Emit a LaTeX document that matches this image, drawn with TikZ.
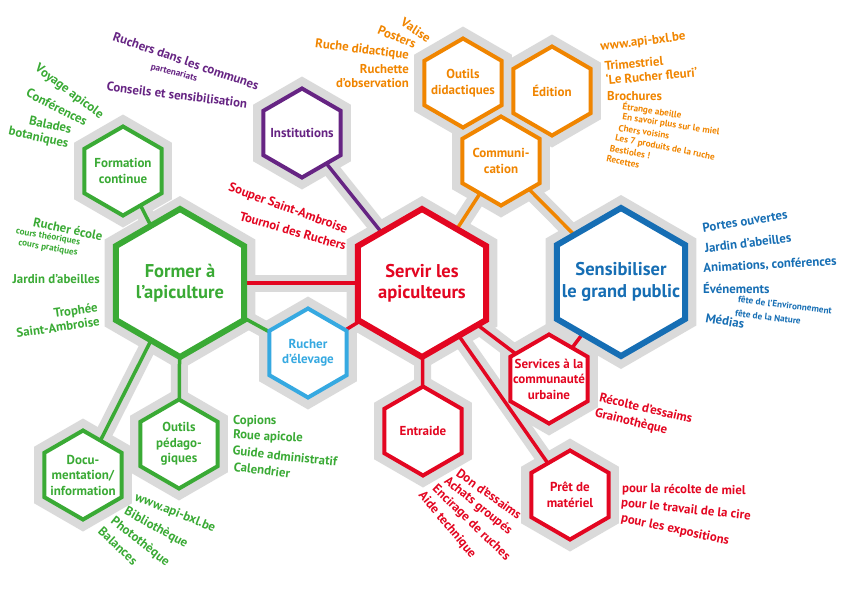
\documentclass[tikz,border=0pt]{standalone}
\usepackage{fontspec}
\setmainfont{PT Sans}
\usetikzlibrary{shapes.geometric}
\definecolor{apigreen}{RGB}{58,170,53}
\definecolor{apired}{RGB}{227,6,33}
\definecolor{apiblue}{RGB}{22,110,180}
\definecolor{apisky}{RGB}{54,169,225}
\definecolor{apipurple}{RGB}{102,36,131}
\definecolor{apiorange}{RGB}{240,133,0}
\definecolor{halogray}{RGB}{218,218,218}
\pgfdeclarelayer{halo}
\pgfdeclarelayer{link}
\pgfsetlayers{halo,link,main}

\begin{document}
\begin{tikzpicture}[x=1pt, y=-1pt,
    hex/.style={regular polygon, regular polygon sides=6, shape border rotate=30,
                inner sep=0pt, outer sep=0pt},
    hexbig/.style={hex, draw, fill=white, line width=6pt, minimum size=148pt},
    hexsmall/.style={hex, draw, fill=white, line width=4pt, minimum size=89pt},
    halobig/.style={hex, fill=halogray, minimum size=174pt},
    halosmall/.style={hex, fill=halogray, minimum size=113pt},
    biglbl/.style={font=\fontsize{18.5}{21.5}\selectfont\bfseries, align=center},
    smalllbl/.style={font=\fontsize{13}{15.5}\selectfont\bfseries, align=center},
    note/.style={font=\fontsize{12.8}{14.5}\selectfont\bfseries, inner sep=0pt},
    subnote/.style={font=\fontsize{9.2}{10.5}\selectfont\bfseries, inner sep=0pt},
    listnote/.style={font=\fontsize{9.2}{10.5}\selectfont\bfseries, inner sep=0pt}
]
\useasboundingbox (0,0) rectangle (842,595);

% main hexagons
\node[hexbig, draw=apigreen, label={[biglbl, text=apigreen]center:{Former à\\l’apiculture}}] (former) at (180,283) {};
\node[hexbig, draw=apired, label={[biglbl, text=apired]center:{Servir les\\apiculteurs}}] (servir) at (422,283) {};
\node[hexbig, draw=apiblue, label={[biglbl, text=apiblue]center:{Sensibiliser\\le grand public}}] (sensib) at (621,282) {};

% small hexagons
\node[hexsmall, draw=apisky, label={[smalllbl, text=apisky]center:{Rucher\\d’élevage}}] (rucher) at (308,353) {};
\node[hexsmall, draw=apigreen, label={[smalllbl, text=apigreen]center:{Formation\\continue}}] (formation) at (123,171) {};
\node[hexsmall, draw=apipurple, label={[smalllbl, text=apipurple]center:{Institutions}}] (instit) at (302,133) {};
\node[hexsmall, draw=apiorange, label={[smalllbl, text=apiorange]center:{Outils\\didactiques}}] (outilsd) at (463,83) {};
\node[hexsmall, draw=apiorange, label={[smalllbl, text=apiorange]center:{Édition}}] (edition) at (552,91) {};
\node[hexsmall, draw=apiorange, label={[smalllbl, text=apiorange]center:{Communi-\\cation}}] (comm) at (501,161) {};
\node[hexsmall, draw=apigreen, label={[smalllbl, text=apigreen]center:{Outils\\pédago-\\giques}}] (outilsp) at (179,444) {};
\node[hexsmall, draw=apigreen, label={[smalllbl, text=apigreen]center:{Docu-\\mentation/\\information}}] (docu) at (83,475) {};
\node[hexsmall, draw=apired, label={[smalllbl, text=apired]center:{Entraide}}] (entraide) at (423,431) {};
\node[hexsmall, draw=apired, label={[smalllbl, text=apired]center:{Services à la\\communauté\\urbaine}}] (services) at (549,379) {};
\node[hexsmall, draw=apired, label={[smalllbl, text=apired]center:{Prêt de\\matériel}}] (pret) at (570,495) {};

% gray halos
\begin{pgfonlayer}{halo}
\foreach \n in {former,servir,sensib}
    \node[halobig] (\n-halo) at (\n) {};
\foreach \n in {rucher,formation,instit,outilsd,edition,comm,outilsp,docu,entraide,services,pret}
    \node[halosmall] (\n-halo) at (\n) {};
\foreach \a/\b in {former/formation,former/servir,former/rucher,servir/rucher,servir/instit,
                   servir/comm,sensib/comm,servir/entraide,servir/services,sensib/services,
                   servir/pret,former/outilsp,former/docu}
    \draw[halogray, line width=17pt] (\a.center) -- (\b.center);
\end{pgfonlayer}

% links
\begin{pgfonlayer}{link}
\foreach \a/\b/\c/\w in {former/formation/apigreen/3.5, former/servir/apired/4.5,
                         former/rucher/apigreen/3.5, servir/rucher/apired/3.5,
                         servir/instit/apipurple/3.5, servir/comm/apiorange/3.5,
                         sensib/comm/apiorange/3.5, servir/entraide/apired/3.5,
                         servir/services/apired/3.5, sensib/services/apired/3.5,
                         servir/pret/apired/3.5, former/outilsp/apigreen/3.5,
                         former/docu/apigreen/3.5}
    \draw[\c, line width=\w pt] (\a.center) -- (\b.center);
\end{pgfonlayer}

% green notes
\node[note, apigreen, rotate=-37] (voyage) at (69,92) {Voyage apicole};
\node[note, apigreen, rotate=-27] (conferences) at (57,107) {Conférences};
\node[note, apigreen, rotate=-12, align=right] (balades) at (40,131) {Balades\\botaniques};
\node[note, apigreen, rotate=-12] (ecole) at (68,229) {Rucher école};
\node[subnote, apigreen, rotate=-10] (theorie) at (48,237) {cours théoriques};
\node[subnote, apigreen, rotate=-10] (pratique) at (48,248) {cours pratiques};
\node[note, apigreen, anchor=east] (jardin) at (100,279) {Jardin d’abeilles};
\node[note, apigreen, rotate=8, align=right] (trophee) at (57,320) {Trophée\\Saint-Ambroise};
\node[note, apigreen, anchor=west] (copions) at (233,421) {Copions};
\node[note, apigreen, rotate=-3] (roue) at (268,437) {Roue apicole};
\node[note, apigreen, rotate=-6] (guide) at (285,456) {Guide administratif};
\node[note, apigreen, rotate=-7] (calendrier) at (262,470) {Calendrier};
\node[note, apigreen, rotate=-22] (webdoc) at (175,513) {www.api-bxl.be};
\node[note, apigreen, rotate=-29] (biblio) at (156,528) {Bibliothèque};
\node[note, apigreen, rotate=-38] (photo) at (140,542) {Photothèque};
\node[note, apigreen, rotate=-43] (balances) at (118,546) {Balances};

% purple notes
\node[note, apipurple, rotate=-19] (ruchers) at (186,61) {Ruchers dans les communes};
\node[subnote, apipurple, rotate=-15] (partenariats) at (174,73) {partenariats};
\node[note, apipurple, rotate=-7] (conseils) at (177,95) {Conseils et sensibilisation};

% orange notes
\node[note, apiorange, rotate=-33] (valise) at (416,30) {Valise};
\node[note, apiorange, rotate=-22] (posters) at (397,37) {Posters};
\node[note, apiorange, rotate=-7] (ruche) at (362,50) {Ruche didactique};
\node[note, apiorange, align=right, anchor=east] (ruchette) at (409,76) {Ruchette\\d’observation};
\node[note, apiorange, rotate=7] (webedit) at (643,42) {www.api-bxl.be};
\node[note, apiorange, rotate=5, align=left] (trimestriel) at (651,69) {Trimestriel\\‘Le Rucher fleuri’};
\node[note, apiorange, anchor=west] (brochures) at (607,96) {Brochures};
\node[listnote, apiorange, rotate=-9] (etrange) at (652,111) {Étrange abeille};
\node[listnote, apiorange, rotate=-9] (savoir) at (671,125) {En savoir plus sur le miel};
\node[listnote, apiorange, rotate=-9] (voisins) at (644,132) {Chers voisins};
\node[listnote, apiorange, rotate=-11] (produits) at (665,148) {Les 7 produits de la ruche};
\node[listnote, apiorange, rotate=-11] (bestioles) at (630,152) {Bestioles~!};
\node[listnote, apiorange, rotate=-11] (recettes) at (623,162) {Recettes};

% red notes
\node[note, apired, rotate=-20] (souper) at (288,209) {Souper Saint-Ambroise};
\node[note, apired, rotate=-16] (tournoi) at (293,231) {Tournoi des Ruchers};
\node[note, apired, rotate=-36] (don) at (489,494) {Don d’essaims};
\node[note, apired, rotate=-39] (achats) at (478,506) {Achats groupés};
\node[note, apired, rotate=-44] (encirage) at (471,523) {Encirage de ruches};
\node[note, apired, rotate=-50] (aide) at (447,525) {Aide technique};
\node[note, apired, rotate=-13] (recolte) at (646,408) {Récolte d’essaims};
\node[note, apired, rotate=-14] (graino) at (631,422) {Grainothèque};
\node[note, apired, rotate=-1, anchor=west] (miel) at (622,489) {pour la récolte de miel};
\node[note, apired, rotate=-6] (cire) at (686,510) {pour le travail de la cire};
\node[note, apired, rotate=-12] (expo) at (675,530) {pour les expositions};

% blue notes
\node[note, apiblue, rotate=9] (portes) at (745,221) {Portes ouvertes};
\node[note, apiblue, rotate=7] (jardinbis) at (748,243) {Jardin d’abeilles};
\node[note, apiblue, rotate=3] (animations) at (770,265) {Animations, conférences};
\node[note, apiblue, anchor=west] (evenements) at (703,288) {Événements};
\node[subnote, apiblue, rotate=-7] (environnement) at (785,305) {fête de l’Environnement};
\node[subnote, apiblue, rotate=-7] (nature) at (768,317) {fête de la Nature};
\node[note, apiblue, rotate=-10] (medias) at (725,321) {Médias};
\end{tikzpicture}
\end{document}
